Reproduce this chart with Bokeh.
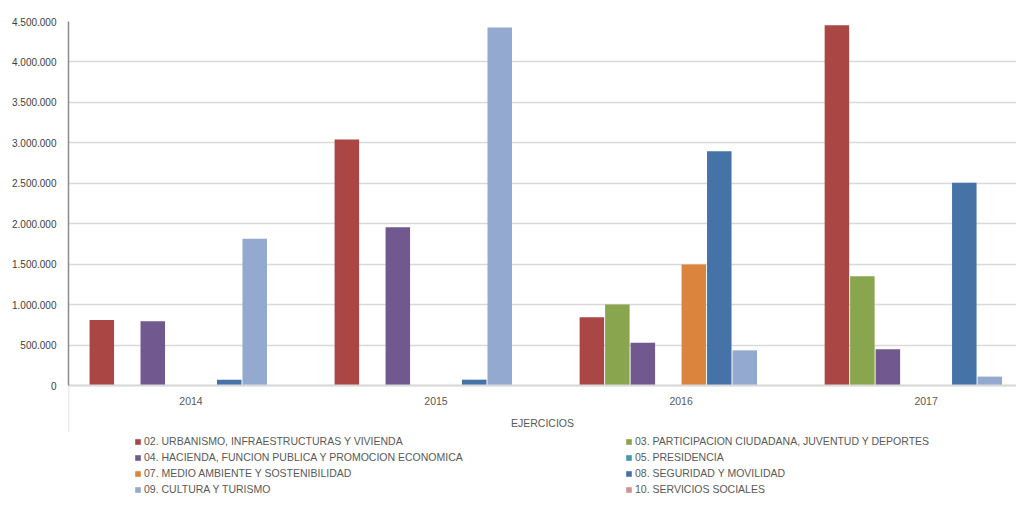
from bokeh.plotting import figure
from bokeh.models import (ColumnDataSource, Range1d, FixedTicker, Legend, LegendItem,
                          LinearAxis)
from bokeh.transform import dodge
from bokeh.embed import file_html
from bokeh.resources import INLINE

# ---------------- data ----------------
years = ["2014", "2015", "2016", "2017"]

series_names = [
    "02. URBANISMO, INFRAESTRUCTURAS Y VIVIENDA",
    "03. PARTICIPACION CIUDADANA, JUVENTUD Y DEPORTES",
    "04. HACIENDA, FUNCION PUBLICA Y PROMOCION ECONOMICA",
    "05. PRESIDENCIA",
    "07. MEDIO AMBIENTE Y SOSTENIBILIDAD",
    "08. SEGURIDAD Y MOVILIDAD",
    "09. CULTURA Y TURISMO",
    "10. SERVICIOS SOCIALES",
]

s02 = [810000, 3040000, 845000, 4455000]
s03 = [0, 0, 1000000, 1350000]
s04 = [795000, 1955000, 530000, 447000]
s05 = [0, 0, 0, 0]
s07 = [0, 0, 1495000, 0]
s08 = [72000, 72000, 2895000, 2505000]
s09 = [1815000, 4425000, 435000, 110000]
s10 = [0, 0, 0, 0]

series_values = [s02, s03, s04, s05, s07, s08, s09, s10]

colors = ["#AA4643", "#89A54E", "#71588F", "#4198AF",
          "#DB843D", "#4572A7", "#93A9CF", "#D09392"]

y_ticks = [0, 500000, 1000000, 1500000, 2000000, 2500000, 3000000, 3500000, 4000000, 4500000]
y_tick_labels = ["0", "500.000", "1.000.000", "1.500.000", "2.000.000",
                 "2.500.000", "3.000.000", "3.500.000", "4.000.000", "4.500.000"]

x_title = "EJERCICIOS"

# ---------------- layout constants (pixels) ----------------
FONT = "Liberation Sans"
W, H = 1016, 497
TOP = 21            # top border
PLOT_PX = 364       # pixels from value 0 to the top value
YMAX = 4500000
below_px = H - TOP - PLOT_PX          # room under the zero line (labels + legend)
ext_px = 47                            # light left line under the zero line
ymin = -YMAX * below_px / PLOT_PX
ext_min = -YMAX * ext_px / PLOT_PX

src = dict(idx=list(range(len(years))))
keys = []
for i, vals in enumerate(series_values):
    k = "s%d" % i
    keys.append(k)
    src[k] = vals
source = ColumnDataSource(src)

p = figure(width=W, height=H, output_backend="svg", toolbar_location=None,
           x_range=Range1d(-0.5, 3.369), y_range=Range1d(ymin, YMAX),
           min_border_left=68, min_border_right=0, min_border_top=TOP,
           min_border_bottom=0)
p.outline_line_color = None
p.background_fill_color = "white"
p.border_fill_color = "white"

slot = 0.104
n = len(keys)
offsets = [(i - (n - 1) / 2.0) * slot for i in range(n)]
renderers = []
for i, k in enumerate(keys):
    r = p.vbar(x=dodge("idx", offsets[i], range=p.x_range), top=k, bottom=0, width=0.1,
               source=source, fill_color=colors[i], line_color=None)
    renderers.append(r)

# y axis (only over the value range)
p.yaxis.ticker = FixedTicker(ticks=y_ticks)
p.yaxis.bounds = (0, YMAX)
p.yaxis.major_label_overrides = {t: l for t, l in zip(y_ticks, y_tick_labels)}
p.yaxis.axis_line_color = "#8c8c8c"
p.yaxis.axis_line_width = 1.5
p.yaxis.major_tick_line_color = None
p.yaxis.minor_tick_line_color = None
p.yaxis.major_tick_out = 0
p.yaxis.major_tick_in = 0
p.yaxis.major_label_standoff = 12
p.yaxis.major_label_text_font = FONT
p.yaxis.major_label_text_font_size = "10px"
p.yaxis.major_label_text_color = "#404040"

# light continuation of the left edge below the zero line
ext = LinearAxis(fixed_location=-0.5, bounds=(ext_min, 0), ticker=FixedTicker(ticks=[]),
                 axis_line_color="#d9d9d9", axis_line_width=1.5,
                 major_tick_line_color=None, minor_tick_line_color=None,
                 major_label_text_font_size="0px")
p.add_layout(ext, "left")

# x axis drawn on the zero line
p.xaxis.fixed_location = 0
p.xaxis.ticker = FixedTicker(ticks=list(range(len(years))))
p.xaxis.major_label_overrides = {i: y for i, y in enumerate(years)}
p.xaxis.axis_line_color = "#d9d9d9"
p.xaxis.axis_line_width = 2
p.xaxis.major_tick_line_color = None
p.xaxis.minor_tick_line_color = None
p.xaxis.major_tick_out = 0
p.xaxis.major_tick_in = 0
p.xaxis.major_label_standoff = 11
p.xaxis.major_label_text_font = FONT
p.xaxis.major_label_text_font_size = "10.5px"
p.xaxis.major_label_text_color = "#595959"
p.xaxis.axis_label = x_title
p.xaxis.axis_label_standoff = 9
p.xaxis.axis_label_text_font = FONT
p.xaxis.axis_label_text_font_size = "10.5px"
p.xaxis.axis_label_text_font_style = "normal"
p.xaxis.axis_label_text_color = "#595959"

# grid
p.xgrid.grid_line_color = None
p.ygrid.ticker = FixedTicker(ticks=y_ticks)
p.ygrid.grid_line_color = "#d9d9d9"
p.ygrid.grid_line_width = 1.5

# legend
items = [LegendItem(label=nm, renderers=[r]) for nm, r in zip(series_names, renderers)]
legend = Legend(items=items, orientation="horizontal", ncols=2,
                location=(66, 0),
                glyph_width=7, glyph_height=7, label_standoff=3,
                label_width=481, label_height=16, spacing=0,
                padding=0, margin=0,
                border_line_color=None, background_fill_alpha=0,
                label_text_font=FONT, label_text_font_size="10.5px",
                label_text_color="#595959")
p.add_layout(legend)

open("out.html", "w").write(file_html(p, INLINE))
